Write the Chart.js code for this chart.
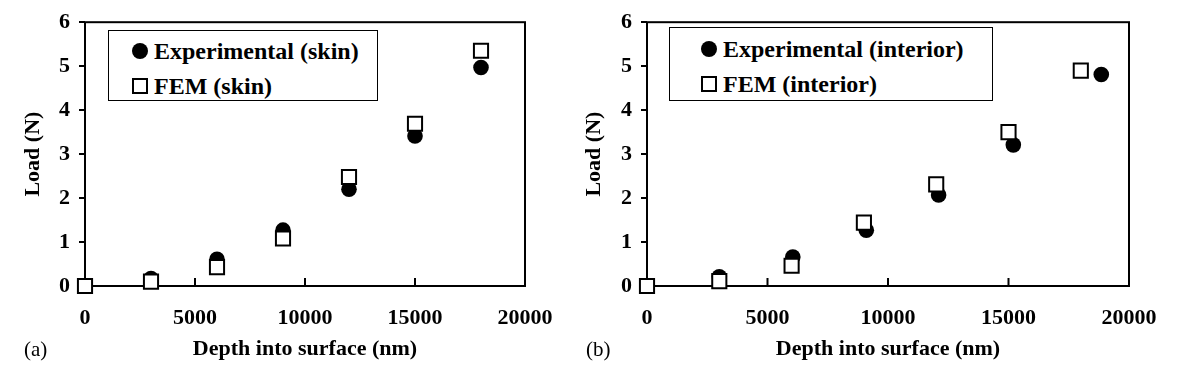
<!DOCTYPE html>
<html>
<head>
<meta charset="utf-8">
<script src="https://cdn.jsdelivr.net/npm/chart.js@4.4.1/dist/chart.umd.min.js"></script>
<style>
  body { margin: 0; background: #fff; width: 1180px; height: 378px; overflow: hidden; position: relative; font-family: "Liberation Serif", "Times New Roman", serif; }
  .panel { position: absolute; top: 0; height: 378px; }
  .legend { position: absolute; border: 1.5px solid #000; box-sizing: border-box; background: #fff; }
  .item { position: absolute; left: 0; height: 30px; display: flex; align-items: center; font-weight: bold; font-size: 24px; color: #000; white-space: nowrap; }
  .mk { position: absolute; box-sizing: border-box; }
  .mk.circle { width: 16px; height: 16px; border-radius: 50%; background: #000; }
  .mk.square { width: 16px; height: 16px; border: 2px solid #000; background: #fff; }
  .tag { position: absolute; font-size: 21px; color: #000; line-height: 1; }
</style>
</head>
<body>
<div class="panel" style="left:0;width:580px"><canvas id="chartA" width="580" height="378"></canvas></div>
<div class="panel" style="left:580px;width:600px"><canvas id="chartB" width="600" height="378"></canvas></div>
<div class="tag" style="left:24px;top:339px">(a)</div>
<div class="tag" style="left:586px;top:339px">(b)</div>
<div id="legendA"></div>
<div id="legendB"></div>
<script>
// (a) skin
const depthSkin = [0, 3000, 6000, 9000, 12000, 15000, 18000];
const loadExpSkin = [0, 0.17, 0.61, 1.27, 2.2, 3.41, 4.97];
const loadFemSkin = [0, 0.1, 0.43, 1.08, 2.48, 3.69, 5.35];

// (b) interior
const depthExpInt = [0, 3000, 6050, 9100, 12100, 15200, 18850];
const loadExpInt = [0, 0.21, 0.66, 1.27, 2.07, 3.21, 4.81];
const depthFemInt = [0, 3000, 6000, 9000, 12000, 15000, 18000];
const loadFemInt = [0, 0.11, 0.46, 1.44, 2.31, 3.5, 4.9];

const xTitle = 'Depth into surface (nm)';
const yTitle = 'Load (N)';
const labelsA = ['Experimental (skin)', 'FEM (skin)'];
const labelsB = ['Experimental (interior)', 'FEM (interior)'];

const FONT = '"Liberation Serif", "Times New Roman", serif';

// caja completa y ticks hacia dentro en x
const marcoPlugin = {
  id: 'marco',
  beforeDatasetsDraw(chart) {
    const { ctx, chartArea: a, scales } = chart;
    ctx.save();
    ctx.strokeStyle = '#000';
    ctx.lineWidth = 2;
    ctx.strokeRect(a.left, a.top, a.right - a.left, a.bottom - a.top);
    ctx.beginPath();
    scales.x.ticks.forEach(t => {
      const px = scales.x.getPixelForValue(t.value);
      ctx.moveTo(px, a.bottom);
      ctx.lineTo(px, a.bottom - 8);
    });
    ctx.stroke();
    ctx.restore();
  }
};

function puntos(xs, ys) {
  return xs.map((x, i) => ({ x, y: ys[i] }));
}

function crearGrafico(id, cfg) {
  const ctx = document.getElementById(id).getContext('2d');
  return new Chart(ctx, {
    type: 'scatter',
    data: {
      datasets: [
        {
          label: cfg.labels[1],
          data: puntos(cfg.femX, cfg.femY),
          pointStyle: 'rect',
          pointRadius: 10,
          backgroundColor: '#fff',
          borderColor: '#000',
          borderWidth: 2,
          order: 0,
          clip: false
        },
        {
          label: cfg.labels[0],
          data: puntos(cfg.expX, cfg.expY),
          pointStyle: 'circle',
          pointRadius: 7.8,
          backgroundColor: '#000',
          borderColor: '#000',
          borderWidth: 0,
          order: 1,
          clip: false
        }
      ]
    },
    options: {
      responsive: false,
      animation: false,
      events: [],
      layout: { padding: { top: 14, right: cfg.padRight, bottom: 0, left: 0 } },
      plugins: { legend: { display: false }, tooltip: { enabled: false } },
      scales: {
        x: {
          type: 'linear',
          min: 0,
          max: 20000,
          afterFit: s => { s.height = 92; },
          ticks: { stepSize: 5000, color: '#000', maxRotation: 0, padding: 19, callback: v => String(v), font: { family: FONT, size: 22, weight: 'bold' } },
          grid: { display: false, drawTicks: false },
          border: { display: false },
          title: { display: true, text: xTitle, color: '#000', font: { family: FONT, size: 22, weight: 'bold' }, padding: { top: 0, bottom: 15 } }
        },
        y: {
          min: 0,
          max: 6,
          afterFit: s => { s.width = cfg.yWidth; },
          ticks: { stepSize: 1, color: '#000', padding: 9, callback: v => String(v), font: { family: FONT, size: 22, weight: 'bold' } },
          grid: { drawOnChartArea: false, drawTicks: true, tickLength: 6, lineWidth: 2, color: '#000' },
          border: { display: false },
          title: { display: true, text: yTitle, color: '#000', font: { family: FONT, size: 22, weight: 'bold' }, padding: { top: cfg.yTitlePad, bottom: 0 } }
        }
      }
    },
    plugins: [marcoPlugin]
  });
}

function crearLeyenda(id, labels, box) {
  const el = document.getElementById(id);
  el.className = 'legend';
  Object.assign(el.style, { left: box.left + 'px', top: box.top + 'px', width: box.width + 'px', height: box.height + 'px' });
  const estilos = ['circle', 'square'];
  labels.forEach((txt, i) => {
    const fila = document.createElement('div');
    fila.className = 'item';
    fila.style.top = box.rows[i] + 'px';
    fila.style.left = box.textX + 'px';
    fila.textContent = txt;
    el.appendChild(fila);
    const mk = document.createElement('div');
    mk.className = 'mk ' + estilos[i];
    mk.style.left = (box.markX - 8) + 'px';
    mk.style.top = (box.rows[i] + 15 - 8) + 'px';
    el.appendChild(mk);
  });
}

crearGrafico('chartA', {
  expX: depthSkin, expY: loadExpSkin, femX: depthSkin, femY: loadFemSkin,
  labels: labelsA, padRight: 55, yWidth: 85, yTitlePad: 20
});
crearGrafico('chartB', {
  expX: depthExpInt, expY: loadExpInt, femX: depthFemInt, femY: loadFemInt,
  labels: labelsB, padRight: 51, yWidth: 67, yTitlePad: 1
});

crearLeyenda('legendA', labelsA, { left: 108, top: 30, width: 270, height: 71, markX: 31, textX: 45, rows: [5, 40] });
crearLeyenda('legendB', labelsB, { left: 669, top: 27, width: 324, height: 74, markX: 39, textX: 53, rows: [6, 41] });
</script>
</body>
</html>
